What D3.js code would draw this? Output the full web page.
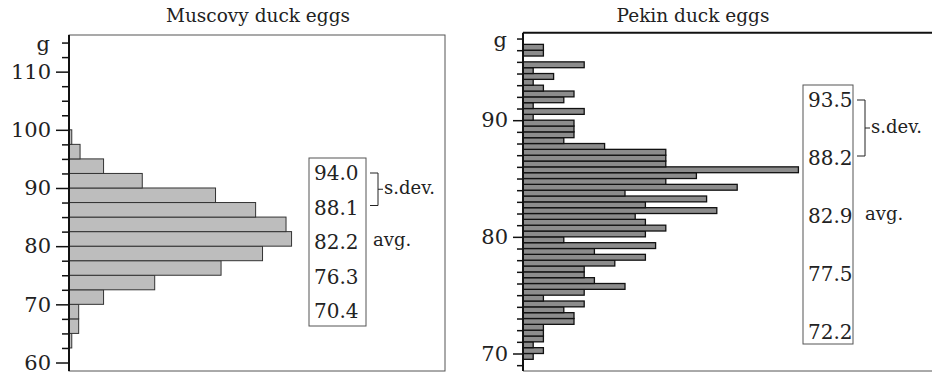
<!DOCTYPE html>
<html>
<head>
<meta charset="utf-8">
<script src="https://cdn.jsdelivr.net/npm/d3@7"></script>
<style>
  body { margin: 0; background: #fff; }
  svg text { font-family: "DejaVu Serif", serif; fill: #222; }
</style>
</head>
<body>
<div id="chart"></div>
<script>
// Muscovy: 2.5 g bins, share of eggs in %
const muscovyBins = [62.5, 65, 67.5, 70, 72.5, 75, 77.5, 80, 82.5, 85, 87.5, 90, 92.5, 95, 97.5];
const muscovyPct  = [0.2, 0.7, 0.7, 2.5, 6.2, 11.0, 14.0, 16.1, 15.7, 13.5, 10.6, 5.3, 2.5, 0.8, 0.2];
const muscovyTicks = [60, 70, 80, 90, 100, 110];
const muscovyMinor = [62.5, 65, 67.5, 72.5, 75, 77.5, 82.5, 85, 87.5, 92.5, 95, 97.5, 102.5, 105, 107.5, 112.5, 115];
const muscovyStats = ["94.0", "88.1", "82.2", "76.3", "70.4"];

// Pekin: 0.5 g bins, number of eggs
const pekinBins = [69.5, 70, 70.5, 71, 71.5, 72, 72.5, 73, 73.5, 74, 74.5, 75, 75.5, 76, 76.5, 77, 77.5, 78, 78.5, 79, 79.5,
  80, 80.5, 81, 81.5, 82, 82.5, 83, 83.5, 84, 84.5, 85, 85.5, 86, 86.5, 87, 87.5, 88, 88.5, 89, 89.5,
  90, 90.5, 91, 91.5, 92, 92.5, 93, 93.5, 94, 94.5, 95, 95.5, 96];
const pekinCount = [1, 2, 1, 2, 2, 2, 5, 5, 4, 6, 2, 6, 10, 7, 6, 6, 9, 12, 7, 13, 4,
  12, 14, 12, 11, 19, 12, 18, 10, 21, 14, 17, 27, 14, 14, 14, 8, 4, 5, 5, 5,
  1, 6, 1, 4, 5, 2, 1, 3, 1, 6, 0, 2, 2];
const pekinTicks = [70, 80, 90];
const pekinMinor = [69, 71, 72, 73, 74, 75, 76, 77, 78, 79, 81, 82, 83, 84, 85, 86, 87, 88, 89, 91, 92, 93, 94, 95, 96, 97];
const pekinStats = ["93.5", "88.2", "82.9", "77.5", "72.2"];

var svg = d3.select("#chart")
  .append("svg")
  .attr("width", 932)
  .attr("height", 372);

function panel(opt) {
  var x = d3.scaleLinear().domain(opt.xDomain).range([opt.left, opt.right]);
  var y = d3.scaleLinear().domain(opt.yDomain).range([opt.bottom, opt.top]);
  var g = svg.append("g");

  // box
  if (opt.box) {
    g.append("rect")
      .attr("x", opt.left).attr("y", opt.top)
      .attr("width", opt.right - opt.left).attr("height", opt.bottom - opt.top)
      .attr("fill", "none").attr("stroke", "#555").attr("stroke-width", 1);
  } else {
    g.append("line")
      .attr("x1", opt.left).attr("x2", 932).attr("y1", opt.top).attr("y2", opt.top)
      .attr("stroke", "#111").attr("stroke-width", 2);
    g.append("line")
      .attr("x1", opt.left).attr("x2", 932).attr("y1", opt.bottom).attr("y2", opt.bottom)
      .attr("stroke", "#555").attr("stroke-width", 1);
  }

  // bars
  g.selectAll(".bar")
    .data(opt.bins.map(function(b, i) { return {b: b, v: opt.values[i]}; }))
    .enter().append("rect")
    .attr("x", x(0))
    .attr("y", function(d) { return y(d.b + opt.step); })
    .attr("height", function(d) { return y(d.b) - y(d.b + opt.step); })
    .attr("width", function(d) { return x(d.v) - x(0); })
    .attr("fill", opt.fill)
    .attr("stroke", opt.stroke)
    .attr("stroke-width", opt.strokeWidth);

  // minor ticks
  g.append("g")
    .attr("transform", "translate(" + opt.left + ",0)")
    .call(d3.axisLeft(y).tickValues(opt.minor).tickSize(opt.minorSize).tickFormat(""))
    .call(function(a) {
      a.select(".domain").remove();
      a.selectAll("line").attr("stroke", "#111").attr("stroke-width", 1.5);
    });

  // major ticks
  g.append("g")
    .attr("transform", "translate(" + opt.left + ",0)")
    .call(d3.axisLeft(y).tickValues(opt.ticks).tickSize(opt.majorSize).tickPadding(5).tickFormat(d3.format("d")))
    .call(function(a) {
      a.select(".domain").remove();
      a.selectAll("line").attr("stroke", "#111").attr("stroke-width", 1.5);
      a.selectAll("text").style("font-family", "DejaVu Serif").style("font-size", "21px").attr("fill", "#222");
    });

  // axis line
  g.append("line")
    .attr("x1", opt.left).attr("x2", opt.left)
    .attr("y1", opt.top).attr("y2", opt.bottom)
    .attr("stroke", "#111").attr("stroke-width", 2);

  // unit
  g.append("text")
    .attr("x", opt.left - opt.majorSize - 6)
    .attr("y", y(opt.gAt) + 8)
    .attr("text-anchor", "end")
    .style("font-size", "21px")
    .text("g");

  // title
  g.append("text")
    .attr("x", opt.titleX)
    .attr("y", 22)
    .attr("text-anchor", "middle")
    .style("font-size", "18.5px")
    .text(opt.title);

  // stats box
  var L = opt.legend;
  g.append("rect")
    .attr("x", L.x).attr("y", L.y)
    .attr("width", L.w).attr("height", L.h)
    .attr("fill", "#fff").attr("stroke", "#555").attr("stroke-width", 1);
  g.selectAll(".stat")
    .data(opt.stats)
    .enter().append("text")
    .attr("x", L.x + 5)
    .attr("y", function(d, i) { return L.row0 + i * L.dy; })
    .style("font-size", "20px")
    .text(function(d) { return d; });

  // s.dev. bracket
  var bx = L.x + L.w + L.bOff;
  var t = L.row0 - 7, b = L.row0 + L.dy - 9;
  g.append("path")
    .attr("d", "M" + (bx - 8) + "," + t + "H" + bx + "V" + b + "H" + (bx - 8)
      + "M" + bx + "," + ((t + b) / 2) + "H" + (bx + 5))
    .attr("fill", "none").attr("stroke", "#222").attr("stroke-width", 1);
  g.append("text")
    .attr("x", bx + 6)
    .attr("y", (t + b) / 2 + 5)
    .style("font-size", "18px")
    .text("s.dev.");
  g.append("text")
    .attr("x", L.x + L.w + L.avgOff)
    .attr("y", L.row0 + 2 * L.dy - 3)
    .style("font-size", "18px")
    .text("avg.");
}

panel({
  title: "Muscovy duck eggs", titleX: 258,
  left: 69, right: 445, top: 35, bottom: 371,
  xDomain: [0, 27.2], yDomain: [58.54, 116.3],
  bins: muscovyBins, values: muscovyPct, step: 2.5,
  ticks: muscovyTicks, minor: muscovyMinor, gAt: 115,
  majorSize: 13, minorSize: 7,
  fill: "#bdbdbd", stroke: "#333", strokeWidth: 1,
  box: true,
  stats: muscovyStats,
  legend: {x: 309, y: 158, w: 57, h: 168, row0: 180, dy: 34.5, bOff: 12, avgOff: 7}
});

panel({
  title: "Pekin duck eggs", titleX: 693,
  left: 523, right: 931, top: 32.7, bottom: 371,
  xDomain: [0, 40], yDomain: [68.5, 97.5],
  bins: pekinBins, values: pekinCount, step: 0.5,
  ticks: pekinTicks, minor: pekinMinor, gAt: 97,
  majorSize: 10, minorSize: 6,
  fill: "#8c8c8c", stroke: "#111", strokeWidth: 1.3,
  box: false,
  stats: pekinStats,
  legend: {x: 803, y: 85, w: 50, h: 259, row0: 107, dy: 58, bOff: 12, avgOff: 12}
});
</script>
</body>
</html>
